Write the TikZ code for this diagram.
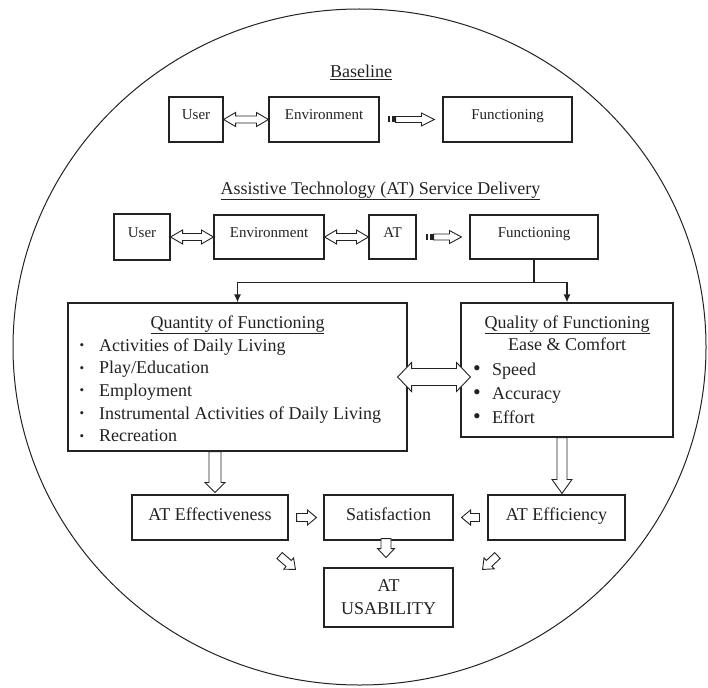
\documentclass[tikz,border=0pt]{standalone}
\usepackage{fontspec}
\setmainfont{Liberation Serif}
\usetikzlibrary{calc,arrows.meta}
\definecolor{ink}{HTML}{222222}
% single block arrow: from, to, shaft half width, head half width, head length
\newcommand{\blkarrow}[5]{%
  \coordinate (ba-s) at (#1); \coordinate (ba-e) at (#2);
  \coordinate (ba-h) at ($(ba-e)!#5pt!(ba-s)$);
  \draw[blk] ($(ba-s)!#3pt!90:(ba-e)$) -- ($(ba-h)!#3pt!90:(ba-e)$) -- ($(ba-h)!#4pt!90:(ba-e)$) -- (ba-e)
     -- ($(ba-h)!#4pt!-90:(ba-e)$) -- ($(ba-h)!#3pt!-90:(ba-e)$) -- ($(ba-s)!#3pt!-90:(ba-e)$) -- cycle;}
% double block arrow
\newcommand{\dblarrow}[5]{%
  \coordinate (da-s) at (#1); \coordinate (da-e) at (#2);
  \coordinate (da-h1) at ($(da-s)!#5pt!(da-e)$);
  \coordinate (da-h2) at ($(da-e)!#5pt!(da-s)$);
  \draw[blk] (da-s) -- ($(da-h1)!#4pt!90:(da-e)$) -- ($(da-h1)!#3pt!90:(da-e)$) -- ($(da-h2)!#3pt!90:(da-e)$)
     -- ($(da-h2)!#4pt!90:(da-e)$) -- (da-e) -- ($(da-h2)!#4pt!-90:(da-e)$) -- ($(da-h2)!#3pt!-90:(da-e)$)
     -- ($(da-h1)!#3pt!-90:(da-e)$) -- ($(da-h1)!#4pt!-90:(da-e)$) -- cycle;}
\begin{document}
\begin{tikzpicture}[x=1pt,y=-1pt,
  bx/.style={draw=ink, line width=1.1pt, inner sep=0pt, text=ink},
  rowbox/.style={bx, font=\fontsize{15}{18}\selectfont, text height=11pt, text depth=11pt},
  lowbox/.style={bx, font=\fontsize{18}{22}\selectfont, text height=13pt, text depth=8pt},
  blk/.style={draw=ink, line width=0.9pt, fill=white, line join=miter},
  conn/.style={draw=ink, line width=1.4pt},
  ttl/.style={text=ink, font=\fontsize{18}{22}\selectfont, inner sep=0pt, anchor=base},
  itm/.style={text=ink, font=\fontsize{18}{22}\selectfont, inner sep=0pt, anchor=base west},
  sbul/.style={text=ink, font=\fontsize{13}{14}\selectfont, inner sep=0pt, anchor=base},
  bbul/.style={text=ink, font=\fontsize{22}{24}\selectfont, inner sep=0pt, anchor=base}]
\useasboundingbox (0,0) rectangle (708,687);
\draw[ink, line width=1pt] (359.5,347) ellipse [x radius=346.5pt, y radius=338pt];

% Baseline
\node[ttl] (tbase) at (361,78) {\underline{Baseline}};
\node[rowbox, minimum width=54pt, minimum height=45pt] (b1u) at (196,119.5) {User};
\node[rowbox, minimum width=110pt, minimum height=45pt] (b1e) at (324,119.5) {Environment};
\node[rowbox, minimum width=129pt, minimum height=45pt] (b1f) at (507.5,119.5) {Functioning};
\dblarrow{b1u.east}{b1e.west}{3.5}{7}{12}
\fill[ink] ($(b1e.east)+(8,-3)$) rectangle ($(b1e.east)+(10.5,3)$);
\fill[ink] ($(b1e.east)+(12,-3)$) rectangle ($(b1e.east)+(16,3)$);
\blkarrow{$(b1e.east)+(16,0)$}{$(b1f.west)+(-8,0)$}{3}{6.5}{13}

% AT service delivery
\node[ttl] (tat) at (380.5,194) {\underline{Assistive Technology (AT) Service Delivery}};
\node[rowbox, minimum width=56pt, minimum height=46pt] (b2u) at (142,237) {User};
\node[rowbox, minimum width=110pt, minimum height=44pt] (b2e) at (269,237) {Environment};
\node[rowbox, minimum width=47pt, minimum height=44pt] (b2a) at (392.5,237) {AT};
\node[rowbox, minimum width=128pt, minimum height=44pt] (b2f) at (534,237) {Functioning};
\dblarrow{b2u.east}{b2e.west}{3.5}{7}{12}
\dblarrow{b2e.east}{b2a.west}{3.5}{7}{12}
\fill[ink] ($(b2a.east)+(9,-3)$) rectangle ($(b2a.east)+(11.5,3)$);
\fill[ink] ($(b2a.east)+(13,-3)$) rectangle ($(b2a.east)+(17,3)$);
\blkarrow{$(b2a.east)+(17,0)$}{$(b2f.west)+(-8,0)$}{3}{6.5}{12}

% Quantity / Quality
\node[bx, minimum width=339pt, minimum height=148pt] (qn) at (237.5,377) {};
\node[bx, minimum width=212pt, minimum height=134pt] (ql) at (567,370) {};
\coordinate (jn) at ($(b2f.south)+(0,23)$);
\draw[conn] (b2f.south) -- (jn);
\draw[conn, -{Latex[length=8pt,width=7pt]}] (jn) -| (qn.north);
\draw[conn, -{Latex[length=8pt,width=7pt]}] (jn) -| (ql.north);

\node[ttl] (tqn) at (237.5,328) {\underline{Quantity of Functioning}};
\foreach \t [count=\i from 0] in {Activities of Daily Living, Play/Education, Employment, Instrumental Activities of Daily Living, Recreation}{
  \node[sbul] (qnb\i) at (82,{351+22.7*\i}) {\raisebox{1.5pt}{\textbullet}};
  \node[itm] (qni\i) at (99,{351+22.7*\i}) {\t};
}
\node[ttl] (tql) at (567,328) {\underline{Quality of Functioning}};
\node[ttl] (tease) at (567,350) {Ease \& Comfort};
\foreach \t [count=\i from 0] in {Speed, Accuracy, Effort}{
  \node[bbul] (qlb\i) at (477,{375+24*\i}) {\raisebox{-0.5pt}{\textbullet}};
  \node[itm] (qli\i) at (492,{375+24*\i}) {\t};
}
\dblarrow{$(qn.east)+(-10,0)$}{$(qn.east -| ql.west)+(10,0)$}{8.5}{14.5}{14}

% lower boxes
\node[lowbox, minimum width=156pt, minimum height=45pt] (ate) at (210,517.5) {AT Effectiveness};
\node[lowbox, minimum width=129pt, minimum height=45pt] (sat) at (388.5,517.5) {Satisfaction};
\node[lowbox, minimum width=137pt, minimum height=45pt] (atf) at (556.5,517.5) {AT Efficiency};
\node[bx, font=\fontsize{18}{23}\selectfont, align=center, minimum width=129pt, minimum height=59pt] (usa) at (388.5,597.5) {AT\\USABILITY};

\blkarrow{$(qn.south)+(-22.5,0)$}{$(ate.north)+(5,-2)$}{6}{10}{10}
\blkarrow{$(ql.south)+(-5,0)$}{$(atf.north)+(5.5,-1)$}{5}{10}{14}
\blkarrow{$(ate.east)+(8,0)$}{$(sat.west)+(-7,0)$}{4}{7.5}{9}
\blkarrow{$(atf.west)+(-8,0)$}{$(sat.east)+(8,0)$}{4}{7.5}{9}
\blkarrow{$(sat.south)+(-2.5,-2)$}{$(sat.south)+(-2.5,17)$}{5}{8.5}{9}
\blkarrow{$(ate.south east)+(-9,15)$}{$(usa.north west)+(-28,2)$}{4}{7.5}{9}
\blkarrow{$(atf.south west)+(10,15)$}{$(usa.north east)+(29,2)$}{4}{7.5}{9}
\end{tikzpicture}
\end{document}
